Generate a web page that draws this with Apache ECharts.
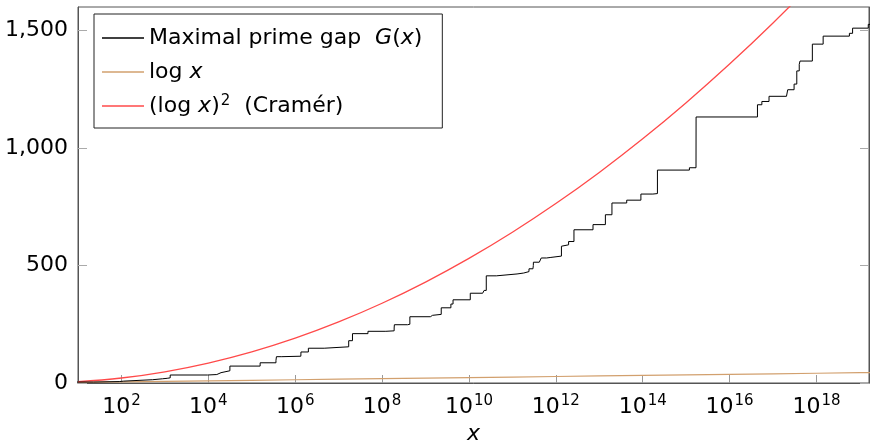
<!DOCTYPE html>
<html>
<head>
<meta charset="utf-8">
<script src="https://cdn.jsdelivr.net/npm/echarts@6/dist/echarts.min.js"></script>
<style>
html,body{margin:0;padding:0;background:#fff;}
#chart{width:870px;height:443px;}
</style>
</head>
<body>
<div id="chart"></div>
<script>
// Record (maximal) prime gaps: start prime p and gap size G
var gapStarts = [7, 23, 89, 113, 523, 887, 1129, 1327, 9551, 15683, 19609, 31397, 155921, 360653, 370261, 492113, 1349533, 1357201, 2010733, 4652353, 17051707, 20831323, 47326693, 122164747, 189695659, 191912783, 387096133, 436273009, 1294268491, 1453168141, 2300942549, 3842610773, 4302407359, 10726904659, 20678048297, 22367084959, 25056082087, 42652618343, 127976334671, 182226896239, 241160624143, 297501075799, 303371455241, 304599508537, 416608695821, 461690510011, 614487453523, 738832927927, 1346294310749, 1408695493609, 1968188556461, 2614941710599, 7177162611713, 13829048559701, 19581334192423, 42842283925351, 90874329411493, 171231342420521, 218209405436543, 1189459969825483, 1686994940955803, 1693182318746371, 43841547845541059, 55350776431903243, 80873624627234849, 203986478517455989, 218034721194214273, 305405826521087869, 352521223451364323, 401429925999153707, 418032645936712127, 804212830686677669, 1425172824437699411, 5733241593241196731, 6787988999657777797, 15570628755536096243, 17678654157568189057];
var gapSizes = [4, 6, 8, 14, 18, 20, 22, 34, 36, 44, 52, 72, 86, 96, 112, 114, 118, 132, 148, 154, 180, 210, 220, 222, 234, 248, 250, 282, 288, 292, 320, 336, 354, 382, 384, 394, 456, 464, 468, 474, 486, 490, 500, 514, 516, 532, 534, 540, 582, 588, 602, 652, 674, 716, 766, 778, 804, 806, 906, 916, 924, 1132, 1184, 1198, 1220, 1224, 1248, 1272, 1328, 1356, 1370, 1442, 1476, 1488, 1510, 1526, 1530];

// Sample points (one per decade) for the comparison curves
var curveX = [1e1, 1e2, 1e3, 1e4, 1e5, 1e6, 1e7, 1e8, 1e9, 1e10, 1e11, 1e12, 1e13, 1e14, 1e15, 1e16, 1e17, 1e18, 1e19, 1e20];
var logVals = [2.30, 4.61, 6.91, 9.21, 11.51, 13.82, 16.12, 18.42, 20.72, 23.03, 25.33, 27.63, 29.93, 32.24, 34.54, 36.84, 39.14, 41.45, 43.75, 46.05];
var cramerVals = [5.30, 21.21, 47.72, 84.83, 132.55, 190.87, 259.79, 339.32, 429.45, 530.19, 641.53, 763.47, 896.02, 1039.17, 1192.93, 1357.29, 1532.25, 1717.82, 1914.0, 2120.8];

// Tick labels
var xTicks = [1e2, 1e4, 1e6, 1e8, 1e10, 1e12, 1e14, 1e16, 1e18];
var yTicks = [0, 500, 1000, 1500];
var seriesNames = ['Maximal prime gap G(x)', 'log x', '(log x)^2 (Cramér)'];

function zip(xs, ys) { return xs.map(function (x, i) { return [x, ys[i]]; }); }

var FONT = 'DejaVu Sans';
var chart = echarts.init(document.getElementById('chart'), null, {renderer: 'canvas'});

var legendRich = {
  t: {fontFamily: FONT, fontSize: 22, color: '#000', lineHeight: 26},
  i: {fontFamily: FONT, fontSize: 22, fontStyle: 'italic', color: '#000', lineHeight: 26},
  s: {fontFamily: FONT, fontSize: 15, color: '#000', verticalAlign: 'top', lineHeight: 15, padding: [1, 0, 0, 1]}
};

var option = {
  animation: false,
  backgroundColor: '#fff',
  grid: {left: 78, right: 1, top: 7, bottom: 60, show: true, borderColor: '#555', borderWidth: 1, backgroundColor: 'transparent', containLabel: false, outerBoundsMode: 'none'},
  legend: {
    data: seriesNames,
    orient: 'vertical',
    left: 94, top: 14,
    padding: [11, 20, 9, 8],
    itemGap: 8,
    itemWidth: 42, itemHeight: 1.5,
    icon: 'rect',
    backgroundColor: '#fff',
    borderColor: '#222', borderWidth: 1,
    textStyle: {fontFamily: FONT, fontSize: 22, color: '#000', lineHeight: 26, rich: legendRich, padding: [0, 0, 0, 0]},
    itemStyle: {borderWidth: 0},
    formatter: function (name) {
      if (name === seriesNames[0]) return '{t|Maximal prime gap  }{i|G}{t|(}{i|x}{t|)}';
      if (name === seriesNames[1]) return '{t|log }{i|x}';
      return '{t|(log }{i|x}{t|)}{s|2}{t|  (Cramér)}';
    }
  },
  xAxis: {
    type: 'log',
    logBase: 10,
    min: 10,
    max: 1.62e19,
    name: 'x',
    nameLocation: 'middle',
    nameGap: 36,
    nameTextStyle: {fontFamily: FONT, fontSize: 22, fontStyle: 'italic', color: '#000'},
    axisLine: {show: true, lineStyle: {color: '#555', width: 1}},
    axisTick: {show: true, inside: true, length: 8, lineStyle: {color: '#999'}, customValues: xTicks},
    minorTick: {show: false},
    splitLine: {show: false},
    axisLabel: {
      customValues: xTicks,
      margin: 11,
      color: '#000',
      fontFamily: FONT,
      fontSize: 22,
      formatter: function (v) {
        var e = Math.round(Math.log10(v));
        return '{b|10}{s|' + e + '}';
      },
      rich: {
        b: {fontFamily: FONT, fontSize: 22, color: '#000', lineHeight: 26},
        s: {fontFamily: FONT, fontSize: 15, color: '#000', verticalAlign: 'top', lineHeight: 15, padding: [0, 0, 0, 1]}
      }
    }
  },
  yAxis: [{
    type: 'value',
    min: 0, max: 1600,
    axisLine: {show: true, lineStyle: {color: '#555', width: 1}},
    axisTick: {show: true, inside: true, length: 9, lineStyle: {color: '#aaa'}, customValues: yTicks},
    splitLine: {show: false},
    axisLabel: {
      customValues: yTicks,
      margin: 10, color: '#000', fontFamily: FONT, fontSize: 22,
      formatter: function (v) { return Number(v).toLocaleString('en-US'); }
    }
  }, {
    type: 'value',
    position: 'right',
    min: 0, max: 1600,
    axisLine: {show: true, lineStyle: {color: '#555', width: 1}},
    axisTick: {show: true, inside: true, length: 9, lineStyle: {color: '#aaa'}, customValues: yTicks},
    splitLine: {show: false},
    axisLabel: {show: false}
  }],
  series: [
    {
      name: seriesNames[0], type: 'line', step: 'end', showSymbol: false, symbol: 'none',
      color: '#000', lineStyle: {color: '#000', width: 1}, clip: true, z: 3,
      data: zip(gapStarts, gapSizes)
    },
    {
      name: seriesNames[1], type: 'line', showSymbol: false, symbol: 'none',
      color: '#d2a06e', lineStyle: {color: '#d2a06e', width: 1.2}, clip: true, z: 2,
      data: zip(curveX, logVals)
    },
    {
      name: seriesNames[2], type: 'line', smooth: 0.4, showSymbol: false, symbol: 'none',
      color: '#ff4a4a', lineStyle: {color: '#ff4a4a', width: 1.3}, clip: true, z: 2,
      data: zip(curveX, cramerVals)
    }
  ]
};
chart.setOption(option);
</script>
</body>
</html>
